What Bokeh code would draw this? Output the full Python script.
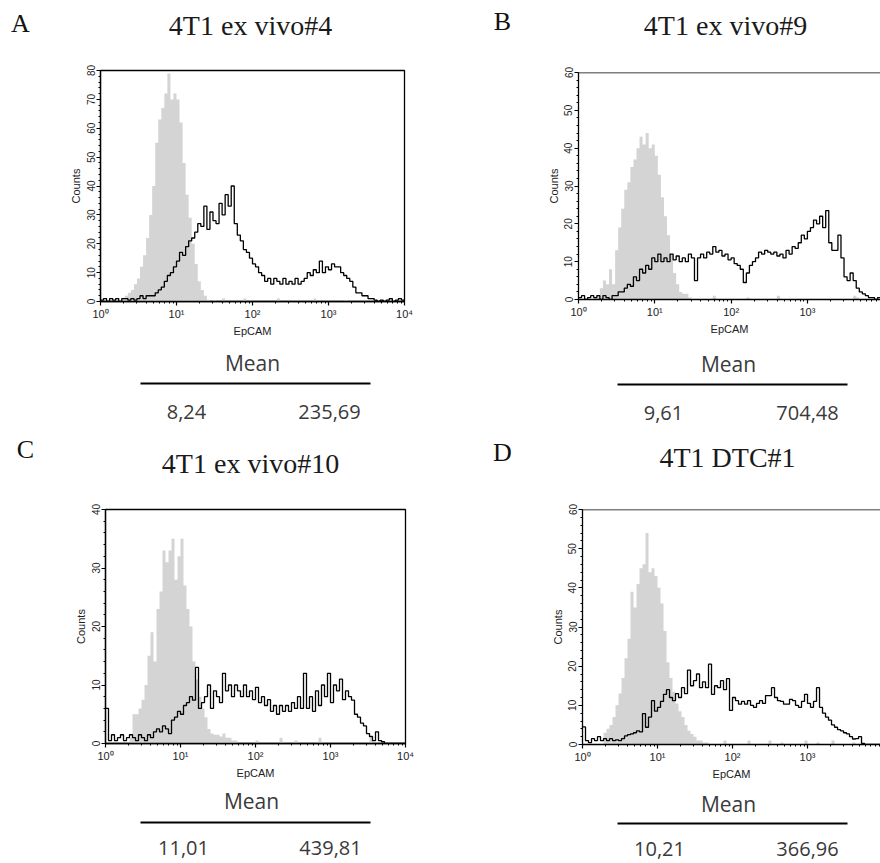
import numpy as np
from bokeh.plotting import figure
from bokeh.layouts import column, row
from bokeh.models import Range1d, FixedTicker, CustomJSTickFormatter, Span
from bokeh.core.properties import value
from bokeh.embed import file_html
from bokeh.resources import INLINE

# ---------------- data ----------------
PANEL_LETTERS = ["A", "B", "C", "D"]
PANEL_TITLES = ["4T1 ex vivo#4", "4T1 ex vivo#9", "4T1 ex vivo#10", "4T1 DTC#1"]
MEAN_LABEL = "Mean"
MEAN_CONTROL = ["8,24", "9,61", "11,01", "10,21"]
MEAN_EPCAM = ["235,69", "704,48", "439,81", "366,96"]
X_LABEL = "EpCAM"
Y_LABEL = "Counts"
Y_MAX = [80, 60, 40, 60]
X_MAJOR = [1, 10, 100, 1000, 10000]
X_END_LOG = [4.0, 3.958, 4.0, 3.973]   # visible part of the log axis (right panels cut by page edge)
BIN_LOG_WIDTH = 0.04                   # histogram channel width in decades
N_BINS = 100

A_CONTROL = [0, 0, 0, 0, 0, 0, 0.5, 1, 2, 3,
             4, 6, 8, 12, 16, 22, 30, 40, 55, 63,
             67, 72, 79, 70, 72, 70, 62, 48, 37, 29,
             20, 13, 7, 4, 2, 0.5, 0, 0.5, 0, 0,
             1, 0, 0, 0, 0, 0, 0, 1, 0, 0,
             0, 0, 0, 0, 0, 0, 0, 0, 1, 0,
             0, 0, 0, 0, 0, 0, 0, 0, 0, 0,
             1, 0, 0, 0, 0, 0, 0, 0, 0, 0,
             0.5, 0, 0, 0, 0, 0, 0, 0, 0, 0,
             0, 0, 0, 0, 0, 1, 0, 0, 0, 0]
A_EPCAM = [0.5, 1, 0, 1, 0.5, 1, 0, 1, 1, 0.5,
           1, 0.5, 1, 2, 1, 2, 2, 2, 3, 4,
           5, 7, 9, 10, 12, 14, 17, 16, 19, 21,
           22, 24, 27, 26, 33, 25, 31, 28, 27, 34,
           30, 37, 33, 40, 27, 23, 21, 18, 17, 15,
           13, 12, 10, 9, 7, 8, 6, 8, 7, 6,
           8, 6, 7, 6, 8, 6, 7, 8, 10, 9,
           11, 10, 14, 10, 12, 11, 13, 12, 12, 10,
           9, 8, 7, 5, 3, 3, 2, 2, 1, 1,
           0.5, 0, 0.5, 0, 0.5, 1, 0, 0.5, 1, 0.5]

B_CONTROL = [0, 0, 0, 0, 0, 0.5, 1, 3, 5, 4,
             8, 4, 13, 19, 24, 29, 31, 35, 37, 40,
             43, 41, 44, 40, 41, 38, 33, 27, 22, 17,
             12, 7, 4, 2, 1.5, 1.5, 0.5, 0, 0, 0,
             0, 0, 0, 0, 1, 0, 0, 0, 0, 0,
             0, 0, 0, 0, 0, 0.5, 0, 0, 0, 0,
             0, 0, 0, 0, 0, 1, 0, 0, 0, 0,
             0, 0, 0, 0, 0, 0, 0, 0, 0, 0,
             0, 0, 0, 0, 0, 0, 0, 0, 0, 0,
             1, 0.5, 0, 0, 0, 0, 0, 0, 0, 0]
B_EPCAM = [0.5, 1, 0, 0.5, 1, 0.5, 1, 0, 1, 0.5,
           0, 1, 1, 2, 2, 3, 4, 3.5, 6, 5,
           8, 7, 9, 8, 11, 10, 12, 10, 11, 10,
           12, 10.5, 11.5, 10, 11, 10, 12, 11, 5, 11,
           12, 11, 12.5, 12, 14, 12.5, 13, 11.5, 12, 10.5,
           11, 9.5, 9, 8, 4.5, 7, 9, 10, 11, 12.5,
           12, 13, 12.5, 12, 12.5, 11.5, 12, 11, 13, 12,
           14, 13.5, 15, 17, 16, 18, 19, 21, 20, 22,
           19, 23.5, 15, 13, 13, 17, 11, 6, 5, 7,
           5, 3, 2, 1.5, 1, 0.5, 0.5, 0, 0.5, 0]

C_CONTROL = [0, 0, 0, 0, 0, 0, 0, 0, 1, 5,
             5, 6, 7.5, 10, 15, 19, 14, 23, 26, 33,
             31, 33, 35, 28, 32, 35, 27, 23, 20, 14,
             11, 8, 6, 4.5, 2.5, 1.7, 1.5, 1.5, 1.2, 1.7,
             1, 1, 0.5, 0.5, 0, 0, 0, 0, 0, 0,
             0.5, 0, 0, 0, 0, 0, 0, 0, 1, 0,
             0, 0, 0, 0.5, 0, 0, 0, 0, 0, 0,
             0, 1, 0, 0, 0, 0, 0, 0, 0, 0,
             0, 0, 0, 0, 0, 0, 0, 0, 1, 0,
             0, 0, 0, 0, 0, 0, 0, 0, 0, 0]
C_EPCAM = [6, 0.5, 1.5, 0.5, 1, 1.5, 0.5, 1, 1.5, 1,
           0.5, 1.5, 1, 0.5, 1.5, 1, 2, 2.5, 2, 3,
           2.5, 1.7, 4, 4.5, 5.5, 5, 6.5, 7, 8, 7.4,
           13, 6, 7, 8, 10, 6, 9, 8, 7, 12,
           9, 10, 8, 10, 9, 8, 10, 8, 9, 7.5,
           9.6, 7, 8, 6.5, 7.5, 5.5, 6.5, 5, 6.5, 5.5,
           6.5, 5.5, 7, 6, 8, 6, 12, 6, 8, 5.5,
           9, 6.5, 10, 8, 12, 7, 10, 9, 11, 7.5,
           9, 8, 7.4, 5, 4.5, 3.5, 3, 1.7, 1.2, 0.5,
           2, 0.5, 0.3, 0, 0, 0, 0, 0, 0, 0]

D_CONTROL = [0, 0, 0, 0, 0, 0, 0, 3, 4, 5,
             7, 10, 13, 17, 22, 27, 39, 35, 41, 45,
             46, 54, 44, 45, 43, 40, 36, 29, 21, 17,
             13.5, 10.5, 8.5, 7, 5, 3.5, 2.7, 2, 1, 1,
             0.5, 0.5, 0, 0, 0, 0, 0, 1, 0, 0,
             0, 0, 0, 0, 0, 1, 0, 0, 0, 0,
             0, 0, 1, 0, 0, 0, 0.5, 0, 0, 0,
             0, 0, 0, 0, 1, 0, 0, 0, 0.5, 0,
             0, 0, 0, 1, 0, 0, 0, 0, 0, 0,
             0.5, 0, 0, 0, 0, 0, 0, 0, 0, 0]
D_EPCAM = [4.5, 1, 0.5, 1.5, 1, 2, 1, 1.5, 1, 1.5,
           1, 1.2, 1, 1.5, 2.2, 2.5, 2.7, 3, 3.5, 3.2,
           7.9, 4.4, 7, 11.2, 8.5, 9.5, 11, 12.8, 14, 12,
           11.2, 13, 12, 14.5, 13, 19, 15, 16.3, 18, 14.5,
           16, 14.5, 20.5, 12.8, 15, 14.5, 16.3, 14, 16.8, 8.7,
           12, 11.2, 10.3, 11, 10.3, 11.2, 10, 9.5, 10.5, 11.2,
           10.5, 12.5, 12.5, 14.5, 12, 11.2, 11, 10.3, 10.3, 11.5,
           11.2, 10, 9.5, 11, 12.8, 10.5, 9.5, 11, 14.5, 9.5,
           8, 7, 6.2, 5, 4.4, 3.8, 3.5, 3, 2.7, 2,
           1.4, 1.5, 2, 0.3, 0, 0, 0, 0, 0, 0]

CONTROLS = [A_CONTROL, B_CONTROL, C_CONTROL, D_CONTROL]
EPCAMS = [A_EPCAM, B_EPCAM, C_EPCAM, D_EPCAM]

# ---------------- style / layout ----------------
GRAY = "#d4d4d4"
TEXT_DARK = "#3a3a3a"
COL_W = 440
HEADER_H = [60, 60, 70, 70]
HIST_H = [280, 280, 285, 285]
FOOTER_H = [90, 90, 78, 78]
# frame borders inside each histogram figure: left, right, top, bottom
BORDERS = [(100, 36, 10, 39), (138, 0, 12, 41), (105, 35, 9, 42), (142, 0, 9, 41)]
BOXED = [True, False, True, False]
# header text positions (local px): letter (x, y), title (x, y)
LETTER_POS = [(20, 23), (62, 21), (25, 19), (62, 22)]
TITLE_POS = [(250, 25), (285, 25), (250, 33), (287, 27)]
# footer: mean label y, rule y, values y, rule x0/x1, value x positions
FOOT = [dict(my=22, ly=43, vy=71, x0=140, x1=370, vx=(186, 329), mx=252),
        dict(my=23, ly=44, vy=72, x0=177, x1=407, vx=(223, 367), mx=288),
        dict(my=15, ly=37, vy=62, x0=140, x1=370, vx=(183, 330), mx=251),
        dict(my=18, ly=38, vy=63, x0=177, x1=407, vx=(219, 367), mx=288)]

edges = 10 ** (np.arange(N_BINS + 1) * BIN_LOG_WIDTH)
step_x = np.repeat(edges, 2)[1:-1]

sup_formatter = CustomJSTickFormatter(code="""
const sup = ['\u2070', '\u00b9', '\u00b2', '\u00b3', '\u2074'];
const e = Math.round(Math.log10(tick));
return '10' + (sup[e] || '');
""")


def blank_fig(h):
    f = figure(width=COL_W, height=h, x_range=Range1d(0, COL_W), y_range=Range1d(h, 0),
               x_axis_location=None, y_axis_location=None, min_border=0, frame_align=False,
               outline_line_color=None, toolbar_location=None, output_backend="svg")
    for g in f.grid:
        g.visible = False
    return f


def header_fig(k):
    f = blank_fig(HEADER_H[k])
    f.text(x=[LETTER_POS[k][0]], y=[LETTER_POS[k][1]], text=[PANEL_LETTERS[k]],
           text_font=value("Liberation Serif"), text_font_size="26px", text_color="#111111",
           text_align="center", text_baseline="middle")
    f.text(x=[TITLE_POS[k][0]], y=[TITLE_POS[k][1]], text=[PANEL_TITLES[k]],
           text_font=value("Liberation Serif"), text_font_size="28px", text_color="#1a1a1a",
           text_align="center", text_baseline="middle")
    return f


def footer_fig(k):
    d = FOOT[k]
    f = blank_fig(FOOTER_H[k])
    f.text(x=[d["mx"]], y=[d["my"]], text=[MEAN_LABEL], text_font=value("Open Sans"),
           text_font_size="21px", text_color=TEXT_DARK, text_align="center", text_baseline="middle")
    f.segment(x0=[d["x0"]], y0=[d["ly"]], x1=[d["x1"]], y1=[d["ly"]], line_color="black", line_width=2.2)
    f.text(x=list(d["vx"]), y=[d["vy"], d["vy"]], text=[MEAN_CONTROL[k], MEAN_EPCAM[k]],
           text_font=value("Open Sans"), text_font_size="20px", text_color=TEXT_DARK,
           text_align="center", text_baseline="middle")
    return f


def hist_fig(k):
    bl, br, bt, bb = BORDERS[k]
    ymax = Y_MAX[k]
    p = figure(width=COL_W, height=HIST_H[k], x_axis_type="log",
               x_range=Range1d(1, 10 ** X_END_LOG[k]), y_range=Range1d(0, ymax),
               min_border_left=bl, min_border_right=br, min_border_top=bt, min_border_bottom=bb,
               frame_align=False, toolbar_location=None, output_backend="svg")
    p.grid.visible = False
    if BOXED[k]:
        p.outline_line_color = "black"
        p.outline_line_width = 1.3
    else:
        p.outline_line_color = None
        p.add_layout(Span(location=ymax, dimension="width", line_color="black", line_width=1.3))

    ctrl = np.asarray(CONTROLS[k], dtype=float)
    epc = np.asarray(EPCAMS[k], dtype=float)
    assert len(ctrl) == N_BINS and len(epc) == N_BINS
    px = np.concatenate([[edges[0]], step_x, [edges[-1]]])
    py = np.concatenate([[0], np.repeat(ctrl, 2), [0]])
    p.patch(px, py, fill_color=GRAY, line_color=None)
    p.line(step_x, np.repeat(epc, 2), line_color="black", line_width=1.3)

    minors = [m * 10 ** e for e in range(4) for m in range(2, 10)]
    p.xaxis.ticker = FixedTicker(ticks=X_MAJOR, minor_ticks=minors)
    p.xaxis.formatter = sup_formatter
    p.yaxis.ticker = FixedTicker(ticks=list(range(0, ymax + 1, 10)),
                                 minor_ticks=list(range(0, ymax + 1, 2)))
    p.yaxis.major_label_orientation = "vertical"
    p.xaxis.axis_label = X_LABEL
    p.yaxis.axis_label = Y_LABEL
    for ax in (p.xaxis, p.yaxis):
        ax.axis_line_color = "black"
        ax.axis_line_width = 1.3
        ax.major_tick_line_color = "black"
        ax.minor_tick_line_color = "black"
        ax.major_tick_line_width = 1.2
        ax.minor_tick_line_width = 1
        ax.major_tick_in = 0
        ax.major_tick_out = 4
        ax.minor_tick_in = 0
        ax.minor_tick_out = 2
        ax.major_label_text_font = "Liberation Sans"
        ax.major_label_text_color = "#222222"
        ax.major_label_standoff = 2
        ax.axis_label_text_font = "Liberation Sans"
        ax.axis_label_text_font_style = "normal"
        ax.axis_label_text_font_size = "11px"
        ax.axis_label_text_color = "#222222"
        ax.axis_label_standoff = 2
    p.xaxis.major_label_text_font_size = "11px"
    p.yaxis.major_label_text_font_size = "10px"
    return p


cols = [column(header_fig(k), hist_fig(k), footer_fig(k)) for k in range(4)]
layout = column(row(cols[0], cols[1]), row(cols[2], cols[3]))

open("out.html", "w", encoding="utf-8").write(file_html(layout, INLINE))
